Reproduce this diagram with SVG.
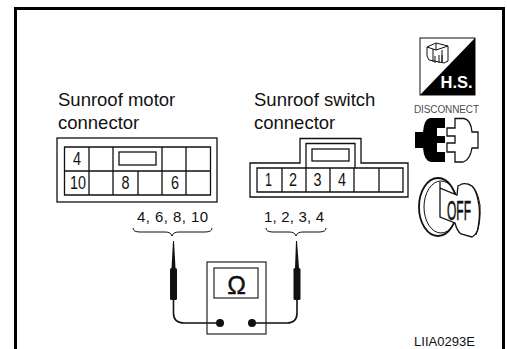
<svg xmlns="http://www.w3.org/2000/svg" width="507" height="349" viewBox="0 0 507 349">
<style>
.t{font-family:"Liberation Sans",Arial,sans-serif;fill:#111}
.l{font-size:18.500px}
.n{font-size:18px;text-anchor:middle}
.p{font-size:15px}
.b{fill:none;stroke:#111;stroke-width:1.3}
.w{fill:#fff;stroke:#111;stroke-width:1.3}
.c{fill:none;stroke:#111;stroke-width:1}
.lead{fill:none;stroke:#111;stroke-width:1.6}
</style>
<rect width="507" height="349" fill="#fff"/>
<g id="frame"><path d="M15.500 349V8.500H503.500V349" fill="none" stroke="#000" stroke-width="3"/></g>
<g id="motor-connector">
<text class="t l" x="58" y="106">Sunroof motor</text>
<text class="t l" x="58" y="129">connector</text>
<rect class="b" x="57" y="138" width="160" height="64"/>
<path class="b" d="M64.500 147H210.500V195H64.500ZM64.500 171H210.500M89 147V195M113 147V195M138 171V195M162 147V195M186 147V195"/>
<rect class="b" x="119" y="152" width="37" height="13"/>
<text class="t n" x="77" y="165" textLength="8" lengthAdjust="spacingAndGlyphs">4</text>
<text class="t n" x="78" y="189" textLength="16" lengthAdjust="spacingAndGlyphs">10</text>
<text class="t n" x="125.500" y="189" textLength="8" lengthAdjust="spacingAndGlyphs">8</text>
<text class="t n" x="175" y="189" textLength="8" lengthAdjust="spacingAndGlyphs">6</text>
</g>
<g id="switch-connector">
<text class="t l" x="254" y="106">Sunroof switch</text>
<text class="t l" x="254" y="129">connector</text>
<path class="b" d="M250 163H300V138.500H361V163H408V197H250Z"/>
<path class="b" d="M306 168V143.500H355V168"/>
<rect class="b" x="312" y="149" width="37" height="12"/>
<path class="b" d="M257 168H403V192H257ZM282 168V192M306 168V192M330 168V192M354 168V192M379 168V192"/>
<text class="t n" x="268.500" y="186" textLength="7" lengthAdjust="spacingAndGlyphs">1</text>
<text class="t n" x="293" y="186" textLength="8" lengthAdjust="spacingAndGlyphs">2</text>
<text class="t n" x="317.500" y="186" textLength="8" lengthAdjust="spacingAndGlyphs">3</text>
<text class="t n" x="342" y="186" textLength="8" lengthAdjust="spacingAndGlyphs">4</text>
</g>
<g id="connectors">
<path class="c" d="M133 228Q133 232 140 232H165Q171 232 172 236Q173 232 179 232H205Q212 232 212 228"/>
<path class="c" d="M266 228Q266 232 273 232H289Q295 232 296 236Q297 232 303 232H319Q326 232 326 228"/>
<path class="lead" d="M173.500 296V313Q173.500 323 184 323H220"/>
<path class="lead" d="M297 296V313Q297 323 287 323H252"/>
</g>
<g id="multimeter">
<rect x="207" y="262" width="59" height="72" fill="none" stroke="#222" stroke-width="1.200"/>
<rect x="214" y="268" width="44" height="30" fill="#fff" stroke="#222" stroke-width="1.200"/>
<text class="t" x="236.500" y="294" font-size="25" text-anchor="middle" stroke="#111" stroke-width=".4">Ω</text>
<circle cx="220" cy="323" r="4" fill="#111"/>
<circle cx="252" cy="323" r="4" fill="#111"/>
</g>
<g id="probe-left">
<path d="M173 241H174L175.500 268H171.500Z" fill="#111"/>
<rect x="170" y="268" width="7" height="32" rx="1.500" fill="#111"/>
</g>
<g id="probe-right">
<path d="M296 241H297L299 268H295Z" fill="#111"/>
<rect x="293.500" y="268" width="7" height="32" rx="1.500" fill="#111"/>
</g>
<g id="labels">
<text class="t p" x="137" y="222" textLength="71">4, 6, 8, 10</text>
<text class="t p" x="264" y="222" textLength="60">1, 2, 3, 4</text>
<text class="t" x="414" y="346" font-size="12.500" textLength="61" lengthAdjust="spacingAndGlyphs">LIIA0293E</text>
</g>
<g id="icon-hs">
<rect x="420" y="38" width="55" height="57" fill="#fff" stroke="#111"/>
<path d="M475 38V95H420Z" fill="#000"/>
<path class="c" d="M427 47L436 43L448 46V61L444 63L429 60L427 56ZM427 47L436 50L448 46M436 43V50M433 49V62M442 50V62" stroke-width=".8"/>
<path d="M435 56V63M439 55V63M442 55V62" class="c" stroke-width=".8"/>
<text x="440.500" y="88" font-family="Liberation Sans,Arial,sans-serif" font-weight="bold" font-size="16.500" fill="#fff">H.S.</text>
</g>
<g id="icon-disconnect">
<text class="t" x="414" y="113" font-size="10" textLength="65" lengthAdjust="spacing" fill-opacity=".8">DISCONNECT</text>
<path d="M445 118H430Q424 119 423 132H415V148H423Q424 161 431 162H445V152H437V143H445V136H437V128H445Z" fill="#000"/>
<path class="w" d="M455 118.500H464Q471 120 472 132H478V148H472Q470 160 463 162H455V152H447V143H455V136H447V128H455Z"/>
</g>
<g id="icon-key">
<ellipse cx="438" cy="207" rx="19" ry="29" fill="#fff" stroke="#111" stroke-width="1.800"/>
<ellipse cx="441" cy="207" rx="17" ry="26" fill="none" stroke="#111" stroke-width="1"/>
<path class="w" d="M440 182V217L455 223Q457 231 461 234L472 237Q477 234 478 228Q481 212 478 200Q476 190 472 186Q465 182 460 185L458 186L457 195L440 188Z"/>
<path class="c" d="M468 184Q477 186 480 205Q481 224 476 235"/>
<text class="t" x="447" y="220" font-size="27" textLength="24" lengthAdjust="spacingAndGlyphs" stroke="#111" stroke-width=".6">OFF</text>
</g>
</svg>
